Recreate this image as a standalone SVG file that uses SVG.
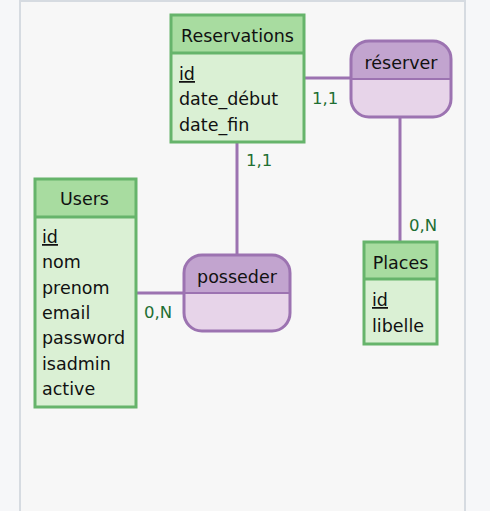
<svg xmlns="http://www.w3.org/2000/svg" width="490" height="511" viewBox="0 0 490 511">
<style>
text{font-family:"DejaVu Sans",Verdana,sans-serif;font-size:17.5px;fill:#111}
.lbl{fill:#1f6f33;font-size:16.5px}
.ent{stroke:#66b46b;stroke-width:3}
.eh{fill:#a8dca0}
.eb{fill:#daf0d4}
.rel{stroke:#9c73b1;stroke-width:3}
.rh{fill:#c2a4cf}
.rb{fill:#e7d4e9}
.conn line{stroke:#9c73b1;stroke-width:3}
.u{text-decoration:underline}
</style>
<rect x="0" y="0" width="490" height="511" fill="#f6f7f9"/>
<rect x="20" y="1" width="445" height="515" fill="#f7f7f7" stroke="#d6dbe1" stroke-width="2"/>
<g class="conn" id="connectors">
<line x1="304" y1="78" x2="351" y2="78"/>
<line x1="237" y1="142" x2="237" y2="256"/>
<line x1="400" y1="117" x2="400" y2="242"/>
<line x1="136" y1="293" x2="184" y2="293"/>
<text class="lbl" x="312" y="104">1,1</text>
<text class="lbl" x="246" y="166">1,1</text>
<text class="lbl" x="409" y="231">0,N</text>
<text class="lbl" x="144" y="318">0,N</text>
</g>
<g id="Reservations">
<rect class="eb" x="171" y="15" width="133" height="127"/>
<rect class="eh" x="171" y="15" width="133" height="38"/>
<rect class="ent" x="171" y="15" width="133" height="127" fill="none"/>
<line class="ent" x1="171" y1="53" x2="304" y2="53"/>
<text x="237.5" y="42" text-anchor="middle">Reservations</text>
<text x="179" y="80" class="u">id</text>
<text x="179" y="105">date_début</text>
<text x="179" y="131">date_fin</text>
</g>
<g id="reserver">
<path class="rb" d="M351,79 H451 V99 a18,18 0 0 1 -18,18 H369 a18,18 0 0 1 -18,-18 Z"/>
<path class="rh" d="M351,79 V59 a18,18 0 0 1 18,-18 H433 a18,18 0 0 1 18,18 V79 Z"/>
<rect class="rel" x="351" y="41" width="100" height="76" rx="18" fill="none"/>
<line x1="351" y1="79" x2="451" y2="79" stroke="#9c73b1" stroke-width="2"/>
<text x="401" y="69" text-anchor="middle">réserver</text>
</g>
<g id="Users">
<rect class="eb" x="35" y="179" width="101" height="228"/>
<rect class="eh" x="35" y="179" width="101" height="38"/>
<rect class="ent" x="35" y="179" width="101" height="228" fill="none"/>
<line class="ent" x1="35" y1="217" x2="136" y2="217"/>
<text x="84.5" y="205" text-anchor="middle">Users</text>
<text x="42" y="243" class="u">id</text>
<text x="42" y="268">nom</text>
<text x="42" y="294">prenom</text>
<text x="42" y="319">email</text>
<text x="42" y="344">password</text>
<text x="42" y="370">isadmin</text>
<text x="42" y="395">active</text>
</g>
<g id="posseder">
<path class="rb" d="M184,293 H290 V313 a18,18 0 0 1 -18,18 H202 a18,18 0 0 1 -18,-18 Z"/>
<path class="rh" d="M184,293 V273 a18,18 0 0 1 18,-18 H272 a18,18 0 0 1 18,18 V293 Z"/>
<rect class="rel" x="184" y="255" width="106" height="76" rx="18" fill="none"/>
<line x1="184" y1="293" x2="290" y2="293" stroke="#9c73b1" stroke-width="2"/>
<text x="237" y="283" text-anchor="middle">posseder</text>
</g>
<g id="Places">
<rect class="eb" x="364" y="242" width="73" height="102"/>
<rect class="eh" x="364" y="242" width="73" height="37"/>
<rect class="ent" x="364" y="242" width="73" height="102" fill="none"/>
<line class="ent" x1="364" y1="279" x2="437" y2="279"/>
<text x="400.5" y="269" text-anchor="middle">Places</text>
<text x="372" y="306" class="u">id</text>
<text x="372" y="332">libelle</text>
</g>
</svg>
